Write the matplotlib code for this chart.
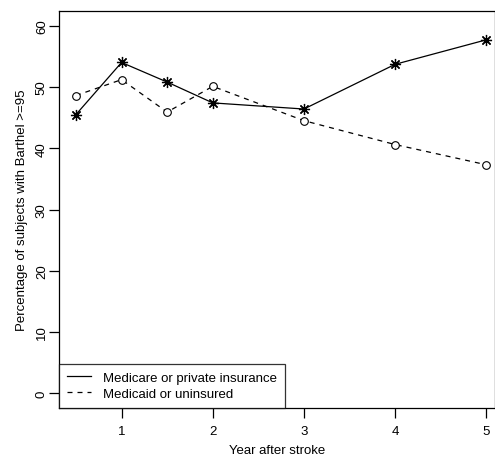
import matplotlib
matplotlib.use("Agg")
import matplotlib.pyplot as plt

plt.rcParams['font.family'] = ['Liberation Sans', 'DejaVu Sans']

years = [0.5, 1, 1.5, 2, 3, 4, 5]
medicare_private = [45.5, 54.0, 50.8, 47.4, 46.4, 53.7, 57.7]
medicaid_uninsured = [48.6, 51.2, 45.9, 50.1, 44.5, 40.6, 37.3]
x_ticks = [1, 2, 3, 4, 5]
y_ticks = [0, 10, 20, 30, 40, 50, 60]

fig = plt.figure(figsize=(4.95, 4.56), dpi=100)
ax = fig.add_axes([59 / 495, 47 / 456, 436 / 495, 397 / 456])

ax.plot(years, medicare_private, color="black", linewidth=0.9, linestyle="-",
        marker=(8, 2, 0), markersize=8, markeredgewidth=0.9,
        label="Medicare or private insurance")
ax.plot(years, medicaid_uninsured, color="black", linewidth=0.9, linestyle=(0, (4, 4)),
        marker="o", markersize=5.5, markerfacecolor="white", markeredgewidth=0.8,
        label="Medicaid or uninsured")

ax.set_xlim(0.314, 5.095)
ax.set_ylim(-2.4, 62.4)
ax.set_xticks(x_ticks)
ax.set_yticks(y_ticks)
ax.set_yticklabels([str(t) for t in y_ticks], rotation=90, va="center")
ax.tick_params(direction="out", length=7, width=0.9, labelsize=9.5)
ax.tick_params(axis="x", pad=5)
ax.tick_params(axis="y", pad=1)
for s in ax.spines.values():
    s.set_linewidth(0.9)

ax.set_xlabel("Year after stroke", fontsize=9.5, labelpad=5)
ax.set_ylabel("Percentage of subjects with Barthel >=95", fontsize=9.5, labelpad=6)

leg = ax.legend(loc="lower left", bbox_to_anchor=(0, 0), borderaxespad=0,
                fontsize=9.5, frameon=True, fancybox=False, handlelength=1.8,
                handletextpad=0.95, borderpad=0.6, labelspacing=0.3)
leg.get_frame().set_edgecolor("black")
leg.get_frame().set_linewidth(0.9)
for h in leg.legend_handles:
    h.set_marker("")

fig.savefig("out.png", dpi=100)
